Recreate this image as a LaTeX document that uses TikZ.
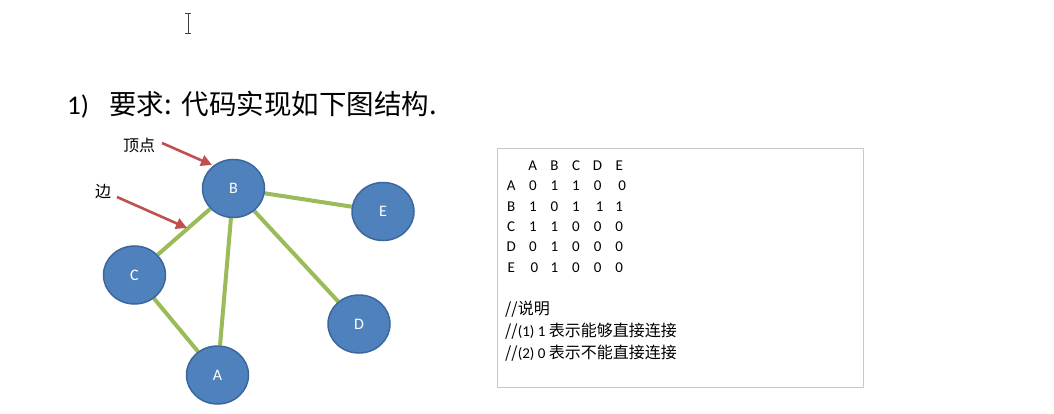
\documentclass[tikz,border=0pt]{standalone}
\usepackage{fontspec}
\setmainfont{Carlito}
\newfontfamily\cjk{Noto Sans CJK SC}
\usetikzlibrary{arrows.meta,backgrounds,matrix,shapes.geometric}
\definecolor{vblue}{HTML}{4F81BD}
\definecolor{vborder}{HTML}{3A679C}
\definecolor{egreen}{HTML}{9BBB59}
\definecolor{ared}{HTML}{C0504D}
\definecolor{boxgray}{HTML}{C8C8C8}
\begin{document}
\begin{tikzpicture}[x=1pt,y=-1pt,
  vertex/.style={ellipse, draw=vborder, line width=1.5pt, fill=vblue,
    minimum width=62pt, minimum height=58pt, inner sep=0pt, text=white,
    font=\fontsize{16}{16}\selectfont},
  edgeline/.style={egreen, line width=4pt},
  pointer/.style={ared, line width=2.6pt, -{Triangle[length=11pt,width=11pt]}},
  lbl/.style={font=\cjk\fontsize{16}{16}\selectfont, inner sep=0pt},
  note/.style={anchor=base west, inner sep=0pt, font=\cjk\fontsize{16}{16}\selectfont},
  cell/.style={font=\fontsize{15}{15}\selectfont, minimum width=21.6pt, minimum height=20.4pt,
    inner sep=0pt, text height=10pt, text depth=0pt}
]
\useasboundingbox (0,0) rectangle (1054,414);

% text cursor
\draw[line width=1pt, black!75] (188,13) -- (188,33);
\draw[line width=0.8pt, black!75] (185,13) -- (191,13) (185,33) -- (191,33);

% title
\node[anchor=base west, inner sep=0pt] (title) at (67,115)
  {\fontsize{27}{27}\selectfont 1)\hspace{20pt}{\cjk\fontsize{27.5}{27.5}\selectfont 要求:\hspace{10pt}代码实现如下图结构.}};

% graph vertices
\node[vertex] (B) at (233.5,188.5) {B};
\node[vertex] (E) at (383,211.5) {E};
\node[vertex] (C) at (134.5,275) {C};
\node[vertex] (D) at (359,324) {D};
\node[vertex] (A) at (217.5,375) {A};

\begin{scope}[on background layer]
  \fill[white] (0,0) rectangle (1054,414);
  \draw[edgeline] (B) -- (C);
  \draw[edgeline] (B) -- (A);
  \draw[edgeline] (B) -- (D);
  \draw[edgeline] (B) -- (E);
  \draw[edgeline] (C) -- (A);
\end{scope}

% pointer labels
\node[lbl] (ding) at (139,145) {顶点};
\node[lbl] (bian) at (103,192) {边};
\coordinate (p1s) at (162,143);
\coordinate (p1e) at (212,165);
\coordinate (p2s) at (117,197);
\coordinate (p2e) at (187,228);
\draw[pointer] (p1s) -- (p1e);
\draw[pointer] (p2s) -- (p2e);

% adjacency box
\node[draw=boxgray, line width=1pt, minimum width=366pt, minimum height=238pt, inner sep=0pt] (box) at (680,268) {};

\matrix (adj) [matrix of nodes, nodes={cell}, anchor=north west, inner sep=0pt,
  column sep=0pt, row sep=0pt] at (500.2,154.8) {
   & A & B & C & D & E \\
  A & 0 & 1 & 1 & 0 & \hspace{6pt}0 \\
  B & 1 & 0 & 1 & \hspace{4pt}1 & 1 \\
  C & 1 & 1 & 0 & 0 & 0 \\
  D & 0 & 1 & 0 & 0 & 0 \\
  E & \hspace{3pt}0 & 1 & 0 & 0 & 0 \\
};

\node[note] (n1) at (505,314) {//说明};
\node[note] (n2) at (505,336) {//{\rmfamily\fontsize{15}{15}\selectfont(1) 1 }表示能够直接连接};
\node[note] (n3) at (505,358) {//{\rmfamily\fontsize{15}{15}\selectfont(2) 0 }表示不能直接连接};
\end{tikzpicture}
\end{document}
